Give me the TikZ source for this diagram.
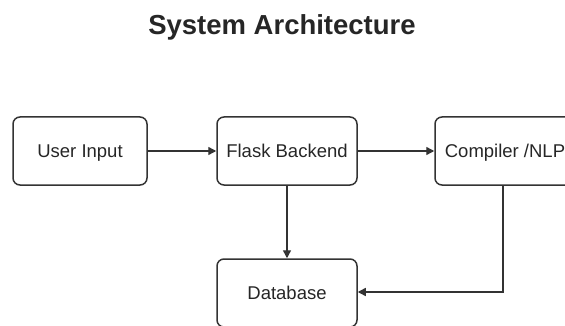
\documentclass[tikz,border=0pt]{standalone}
\usepackage{fontspec}
\setmainfont{Liberation Sans}
\usetikzlibrary{arrows.meta}
\begin{document}
\begin{tikzpicture}[x=1pt,y=-1pt,
  block/.style={draw=black!80, line width=1.5pt, rounded corners=7pt,
    minimum width=140pt, minimum height=68pt, inner sep=0pt,
    text depth=0pt, font=\fontsize{18.5}{20}\selectfont, text=black!85},
  flow/.style={draw=black!80, line width=1.4pt, -{Triangle[length=8pt,width=8pt]}},
  title/.style={font=\bfseries\fontsize{27.5}{30}\selectfont, text=black!85}]
  \useasboundingbox (0,0) rectangle (565,326);
  \node[title] (head) at (282,27) {System Architecture};
  \node[block, minimum width=134pt] (user) at (80,151) {User Input};
  \node[block] (flask) at (287,151) {Flask Backend};
  \node[block] (comp) at (505,151) {Compiler /NLP};
  \node[block] (db) at (287,293) {Database};
  \draw[flow] (user) -- (flask);
  \draw[flow] (flask) -- (comp);
  \draw[flow] (flask) -- (db);
  \coordinate (bend) at (503,292);
  \draw[flow] (comp.south -| bend) -- (bend) -- (db.east |- bend);
\end{tikzpicture}
\end{document}
